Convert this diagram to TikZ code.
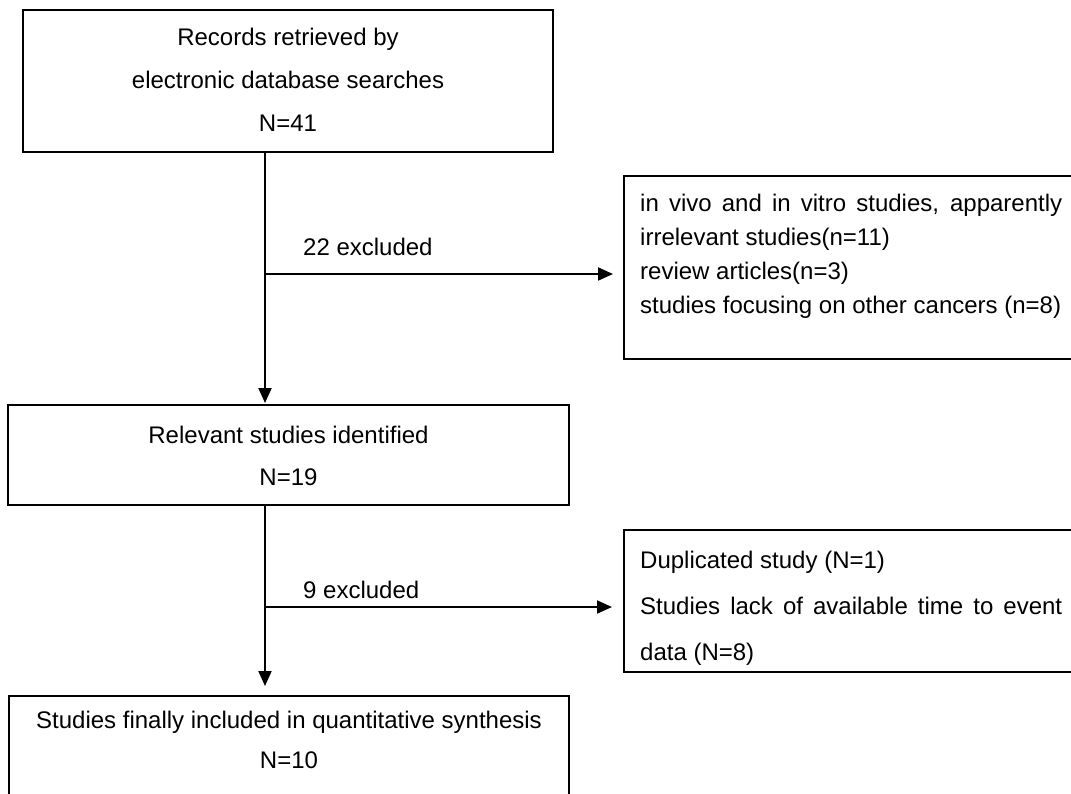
\documentclass[tikz,border=0pt]{standalone}
\usepackage{fontspec}
\setmainfont{Liberation Sans}
\usetikzlibrary{arrows.meta}
\begin{document}
\begin{tikzpicture}[x=1pt,y=-1pt,
  box/.style={draw,line width=2pt,rectangle,inner sep=0pt},
  txt/.style={inner sep=0pt,align=center},
  side/.style={inner sep=0pt,text width=422pt,align=justify},
  arr/.style={line width=2pt,-{Triangle[length=15pt,width=13pt]}},
  lbl/.style={inner sep=0pt,anchor=base west,font=\fontsize{24}{28}\selectfont}]
\clip (0,0) rectangle (1071,793);
\fill[white] (0,0) rectangle (1071,793);
% boxes
\node[box,minimum width=530pt,minimum height=142pt] (b1) at (288,81) {};
\node[box,minimum width=561pt,minimum height=100pt] (b2) at (288.5,455) {};
\node[box,minimum width=560pt,minimum height=110pt] (b4) at (289,751) {};
\node[box,minimum width=456pt,minimum height=183pt] (r1) at (852,267.5) {};
\node[box,minimum width=456pt,minimum height=142pt] (r2) at (852,601) {};
% texts
\node[txt,anchor=north,font=\fontsize{24}{43}\selectfont] (t1) at (288,28)
  {Records retrieved by\\electronic database searches\\N=41};
\node[txt,anchor=north,font=\fontsize{24}{42}\selectfont] (t2) at (288.5,426)
  {Relevant studies identified\\N=19};
\node[txt,anchor=north,font=\fontsize{24}{40}\selectfont] (t4) at (289,711)
  {Studies finally included in quantitative synthesis\\N=10};
\node[side,anchor=north west,font=\fontsize{24}{34}\selectfont] (s1) at (640,194)
  {in vivo and in vitro studies, apparently\linebreak irrelevant studies(n=11)\\review articles(n=3)\\studies focusing on other cancers (n=8)};
\node[side,anchor=north west,font=\fontsize{24}{46}\selectfont] (s2) at (640,551)
  {Duplicated study (N=1)\\Studies lack of available time to event\linebreak data (N=8)};
\node[lbl] (l1) at (303,255) {22 excluded};
\node[lbl] (l2) at (303,598) {9 excluded};
% connectors
\coordinate (v) at (265,0);
\coordinate (j1) at (265,274);
\coordinate (j2) at (265,607);
\draw[arr,shorten >=1pt] (b1.south -| v) -- (b2.north -| v);
\draw[arr,shorten >=10pt] (j1) -- (j1 -| r1.west);
\draw[arr,shorten >=9pt] (b2.south -| v) -- (b4.north -| v);
\draw[arr,shorten >=11pt] (j2) -- (j2 -| r2.west);
\end{tikzpicture}
\end{document}
